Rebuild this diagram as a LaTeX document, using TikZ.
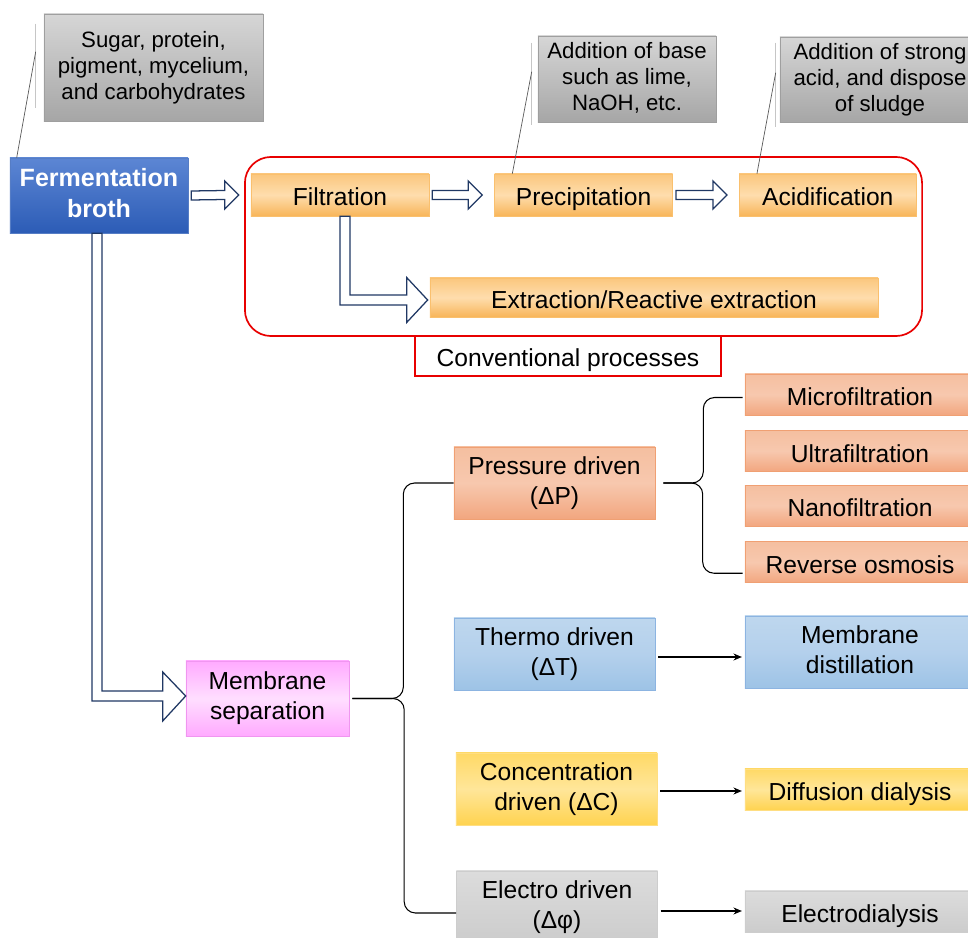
\documentclass[tikz,border=0pt]{standalone}
\usepackage{fontspec}
\setmainfont{Liberation Sans}
\usetikzlibrary{positioning, calc, arrows.meta}

\definecolor{orgtop}{RGB}{251,199,126}
\definecolor{orgmid}{RGB}{254,221,173}
\definecolor{orgbot}{RGB}{248,181,89}
\definecolor{orgline}{RGB}{250,192,110}
\definecolor{saltop}{RGB}{245,191,160}
\definecolor{salmid}{RGB}{247,200,174}
\definecolor{salbot}{RGB}{242,166,127}
\definecolor{salline}{RGB}{240,160,115}
\definecolor{blutop}{RGB}{190,215,238}
\definecolor{blumid}{RGB}{180,208,236}
\definecolor{blubot}{RGB}{157,195,230}
\definecolor{bluline}{RGB}{140,180,225}
\definecolor{yeltop}{RGB}{255,217,102}
\definecolor{yelmid}{RGB}{255,230,153}
\definecolor{yelbot}{RGB}{255,211,80}
\definecolor{yelline}{RGB}{255,222,130}
\definecolor{grytop}{RGB}{220,220,220}
\definecolor{grybot}{RGB}{204,204,204}
\definecolor{gryline}{RGB}{205,205,205}
\definecolor{pnktop}{RGB}{255,170,255}
\definecolor{pnkmid}{RGB}{255,222,255}
\definecolor{pnkline}{RGB}{240,150,240}
\definecolor{brotop}{RGB}{92,134,212}
\definecolor{brobot}{RGB}{44,92,182}
\definecolor{notetop}{RGB}{214,214,214}
\definecolor{notebot}{RGB}{166,166,166}
\definecolor{navy}{RGB}{32,56,100}
\definecolor{convred}{RGB}{232,0,0}

% line box as a slide program sets it
\newcommand{\topstrut}{\rule{0pt}{1.1em}}
\newcommand{\botstrut}{\rule[-0.212em]{0pt}{0.5em}}

\begin{document}
\begin{tikzpicture}[x=0.025cm, y=-0.025cm,
    proc/.style={rectangle, inner sep=0pt, align=center, font=\fontsize{17.5}{21.4}\selectfont, minimum height=1.05cm,
      execute at begin node=\topstrut, execute at end node=\botstrut},
    orgbox/.style={proc, draw=orgline, top color=orgtop, bottom color=orgbot, middle color=orgmid},
    salbox/.style={proc, draw=salline, top color=saltop, bottom color=salbot, middle color=salmid},
    blubox/.style={proc, draw=bluline, top color=blutop, bottom color=blubot, middle color=blumid},
    yelbox/.style={proc, draw=yelline, top color=yeltop, bottom color=yelbot, middle color=yelmid},
    grybox/.style={proc, draw=gryline, top color=grytop, bottom color=grybot},
    pnkbox/.style={proc, draw=pnkline, top color=pnktop, bottom color=pnktop, middle color=pnkmid},
    brothbox/.style={proc, draw=brobot!80!white, top color=brotop, bottom color=brobot, text=white, font=\fontsize{17.8}{21.5}\selectfont\bfseries},
    notebox/.style={rectangle, inner sep=0pt, align=center, draw=gray!75, top color=notetop, bottom color=notebot, font=\fontsize{15.8}{18.5}\selectfont,
      execute at begin node=\rule{0pt}{1.2em}, execute at end node=\botstrut},
    drvbox/.style={minimum width=5.025cm, minimum height=1.8cm},
    outbox/.style={salbox, minimum width=5.75cm, minimum height=1.025cm},
    hollow/.style={draw=navy, fill=white, line width=0.9pt, line join=miter},
    leader/.style={draw=gray!70!black, line width=0.5pt},
    accent/.style={draw=gray!45, line width=1.1pt},
    brace/.style={draw=black, line width=0.75pt, rounded corners=8pt},
    thinarrow/.style={-{Stealth[length=6pt,width=5pt]}, black, line width=0.8pt, shorten <=2pt, shorten >=2pt}
]
\useasboundingbox (0,0) rectangle (968,938);

% conventional route
\node[draw=convred, line width=1.2pt, rounded corners=0.65cm, minimum width=16.925cm, minimum height=4.475cm] (convframe) at (583.5,246.5) {};
\node[brothbox, minimum width=4.45cm, minimum height=1.875cm] (broth) at (99,195.5) {Fermentation\\broth};
\node[orgbox, minimum width=4.45cm] (filtr) at (340,195) {Filtration};
\node[orgbox, minimum width=4.45cm, right=1.625cm of filtr] (precip) {Precipitation};
\node[orgbox, minimum width=4.425cm, right=1.65cm of precip] (acidif) {Acidification};
\node[orgbox, minimum width=11.2cm, minimum height=0.975cm] (extract) at (654,297.5) {Extraction/Reactive extraction};
\node[proc, draw=convred, fill=white, line width=1.2pt, minimum width=7.65cm, minimum height=1cm] (convlabel) at (568,356) {Conventional processes};

% notes
\node[notebox, minimum width=5.475cm, minimum height=2.675cm] (sugar) at (153.5,67.5) {Sugar, protein,\\pigment, mycelium,\\and carbohydrates};
\node[notebox, minimum width=4.45cm, minimum height=2.15cm] (basenote) at (627,79) {Addition of base\\such as lime,\\NaOH, etc.};
\node[notebox, minimum width=5cm, minimum height=2.125cm] (acidnote) at (880,79.5) {Addition of strong\\acid, and dispose\\of sludge};

\draw[accent] ($(sugar.north west)+(-8,10)$) -- ($(sugar.south west)+(-8,-13)$);
\draw[leader] ($(sugar.north west)+(-8,38)$) -- ($(broth.north west)+(7,0)$);
\draw[accent] ($(basenote.north west)+(-6,7)$) -- ($(basenote.south west)+(-6,3)$);
\draw[leader] ($(basenote.north west)+(-6,36)$) -- ($(precip.north west)+(18,0)$);
\draw[accent] ($(acidnote.north west)+(-4,6)$) -- ($(acidnote.south west)+(-4,5)$);
\draw[leader] ($(acidnote.north west)+(-4,36)$) -- ($(acidif.north west)+(18,0)$);

% membrane route
\node[pnkbox, minimum width=4.075cm, minimum height=1.875cm] (membsep) at (267.5,698.5) {Membrane\\separation};
\node[salbox, drvbox] (pressure) at (554.5,483) {Pressure driven\\(ΔP)};
\node[blubox, drvbox] (thermo) at (554.5,654) {Thermo driven\\(ΔT)};
\node[yelbox, drvbox] (conc) at (556.5,789) {Concentration\\driven (ΔC)};
\node[grybox, drvbox] (electro) at (557,907) {Electro driven\\(Δφ)};

\node[outbox] (micro) at (860,394.5) {Microfiltration};
\node[outbox, below=0.375cm of micro] (ultra) {Ultrafiltration};
\node[outbox, below=0.325cm of ultra] (nano) {Nanofiltration};
\node[outbox, below=0.375cm of nano] (ro) {Reverse osmosis};
\node[blubox, minimum width=5.75cm, minimum height=1.8cm] (mdist) at (860,652) {Membrane\\distillation};
\node[yelbox, minimum width=5.75cm, minimum height=1.025cm] (ddial) at (860,789.5) {Diffusion dialysis};
\node[grybox, minimum width=5.75cm, minimum height=1.025cm] (edial) at (860,911.5) {Electrodialysis};

% hollow block arrows
\foreach \a/\b in {broth/filtr, filtr/precip, precip/acidif}
  \draw[hollow] ($(\a.east)+(3,-4.5)$) -- ($(\b.west)+(-26,-4.5)$) -- ($(\b.west)+(-26,-14)$) -- ($(\b.west)+(-12,0)$)
     -- ($(\b.west)+(-26,14)$) -- ($(\b.west)+(-26,4.5)$) -- ($(\a.east)+(3,4.5)$) -- cycle;

\draw[hollow] (filtr.south) -- ($(filtr.south |- extract.west)+(0,7.5)$) -- ($(extract.west)+(-23,7.5)$) -- ($(extract.west)+(-23,25)$)
   -- ($(extract.west)+(-2,2.5)$) -- ($(extract.west)+(-23,-20)$) -- ($(extract.west)+(-23,-2.5)$)
   -- ($(filtr.south |- extract.west)+(10,-2.5)$) -- ($(filtr.south)+(10,0)$) -- cycle;

\draw[hollow] ($(broth.south)+(-7,0)$) -- ($(broth.south |- membsep.west)+(-7,2.5)$) -- ($(membsep.west)+(-23,2.5)$) -- ($(membsep.west)+(-23,22.5)$)
   -- ($(membsep.west)+(0,-2.5)$) -- ($(membsep.west)+(-23,-26.5)$) -- ($(membsep.west)+(-23,-7.5)$)
   -- ($(broth.south |- membsep.west)+(3,-7.5)$) -- ($(broth.south)+(3,0)$) -- cycle;

% braces
\draw[brace] (pressure.west) -| ($(membsep.east)+(54,0)$) -- ($(membsep.east)+(3,0)$);
\draw[brace] ($(membsep.east)+(3,0)$) -| ($(electro.west)+(-52,6)$) -- ($(electro.west)+(0,6)$);
\draw[brace] ($(micro.west)+(-2,3)$) -| ($(pressure.east)+(48,0)$) -- ($(pressure.east)+(8,0)$);
\draw[brace] ($(pressure.east)+(8,0)$) -| ($(ro.west)+(-42,11)$) -- ($(ro.west)+(-2,11)$);

% single outputs
\draw[thinarrow] ($(thermo.east)+(0,3)$) -- ($(thermo.east -| mdist.west)+(0,3)$);
\draw[thinarrow] ($(conc.east)+(0,2)$) -- ($(conc.east -| ddial.west)+(0,2)$);
\draw[thinarrow] ($(electro.east)+(0,4)$) -- ($(electro.east -| edial.west)+(0,4)$);
\end{tikzpicture}
\end{document}
